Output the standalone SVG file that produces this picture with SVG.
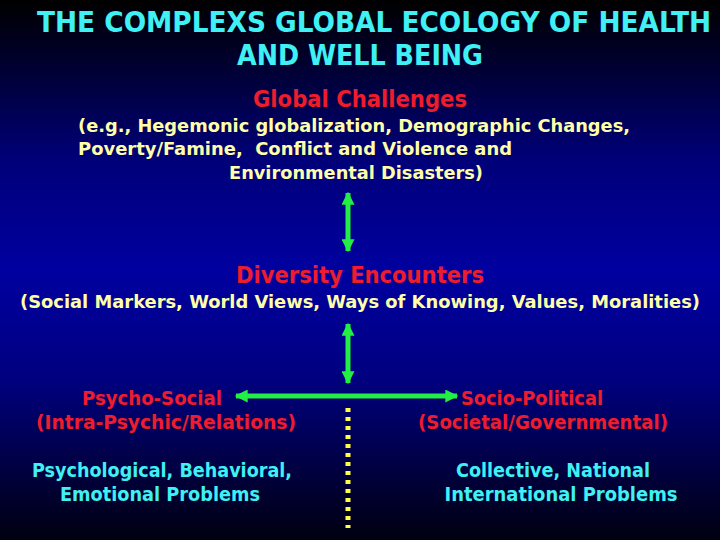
<svg xmlns="http://www.w3.org/2000/svg" width="720" height="540" viewBox="0 0 720 540">
<defs>
<linearGradient id="bg" x1="0" y1="0" x2="0" y2="1">
<stop offset="0" stop-color="#000000"/>
<stop offset="0.3" stop-color="#00007a"/>
<stop offset="0.5" stop-color="#0000a0"/>
<stop offset="0.7" stop-color="#000080"/>
<stop offset="1" stop-color="#000010"/>
</linearGradient>
<marker id="ah" viewBox="0 0 10 10" refX="9" refY="5" markerWidth="2.8" markerHeight="2.6" orient="auto-start-reverse" markerUnits="strokeWidth">
<path d="M0,0 L10,5 L0,10 z" fill="#22ee44"/>
</marker>
<style>
text{font-family:"DejaVu Sans Condensed","DejaVu Sans",sans-serif;font-weight:bold;font-stretch:condensed}
.t{fill:#3ff0f5;font-size:29px}
.r{fill:#ee1c2c;font-size:23px}
.y{fill:#ffffa8;font-size:18px}
.c{fill:#3ff0f5;font-size:19px}
.rs{fill:#ee1c2c;font-size:19px}
.m{text-anchor:middle}
.ln{stroke:#22ee44;stroke-width:5;fill:none}
</style>
</defs>
<rect width="720" height="540" fill="url(#bg)"/>
<g id="title">
<text class="t m" x="374" y="32" textLength="674" lengthAdjust="spacingAndGlyphs">THE COMPLEXS GLOBAL ECOLOGY OF HEALTH</text>
<text class="t m" x="360" y="65" textLength="246" lengthAdjust="spacingAndGlyphs">AND WELL BEING</text>
</g>
<g id="global-challenges">
<text class="r m" x="360" y="107" textLength="214" lengthAdjust="spacingAndGlyphs">Global Challenges</text>
<text class="y" x="78" y="132" textLength="552" lengthAdjust="spacingAndGlyphs">(e.g., Hegemonic globalization, Demographic Changes,</text>
<text class="y" x="78" y="155" textLength="434" lengthAdjust="spacingAndGlyphs" xml:space="preserve">Poverty/Famine,  Conflict and Violence and</text>
<text class="y" x="229" y="179" textLength="254" lengthAdjust="spacingAndGlyphs">Environmental Disasters)</text>
</g>
<g id="diversity-encounters">
<text class="r m" x="360" y="283" textLength="248" lengthAdjust="spacingAndGlyphs">Diversity Encounters</text>
<text class="y" x="20" y="308" textLength="680" lengthAdjust="spacingAndGlyphs">(Social Markers, World Views, Ways of Knowing, Values, Moralities)</text>
</g>
<g id="psycho-social">
<text class="rs m" x="152" y="405" textLength="140" lengthAdjust="spacingAndGlyphs">Psycho-Social</text>
<text class="rs m" x="166" y="429" textLength="260" lengthAdjust="spacingAndGlyphs">(Intra-Psychic/Relations)</text>
<text class="c m" x="162" y="477" textLength="260" lengthAdjust="spacingAndGlyphs">Psychological, Behavioral,</text>
<text class="c m" x="160" y="501" textLength="200" lengthAdjust="spacingAndGlyphs">Emotional Problems</text>
</g>
<g id="socio-political">
<text class="rs m" x="532" y="405" textLength="142" lengthAdjust="spacingAndGlyphs">Socio-Political</text>
<text class="rs m" x="543" y="429" textLength="250" lengthAdjust="spacingAndGlyphs">(Societal/Governmental)</text>
<text class="c m" x="553" y="477" textLength="194" lengthAdjust="spacingAndGlyphs">Collective, National</text>
<text class="c m" x="561" y="501" textLength="233" lengthAdjust="spacingAndGlyphs">International Problems</text>
</g>
<g id="connectors">
<line class="ln" x1="348" y1="193" x2="348" y2="251" marker-start="url(#ah)" marker-end="url(#ah)"/>
<line class="ln" x1="348" y1="324" x2="348" y2="383" marker-start="url(#ah)" marker-end="url(#ah)"/>
<line class="ln" x1="236" y1="396" x2="457" y2="396" marker-start="url(#ah)" marker-end="url(#ah)"/>
<line x1="348" y1="408" x2="348" y2="528" stroke="#ffff44" stroke-width="5" stroke-dasharray="4,5"/>
</g>
</svg>
